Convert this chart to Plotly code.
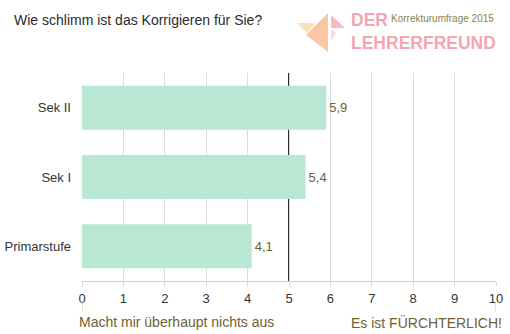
import plotly.graph_objects as go

categories = ["Primarstufe", "Sek I", "Sek II"]
values = [4.1, 5.4, 5.9]
tick_vals = list(range(0, 11))
title_text = "Wie schlimm ist das Korrigieren für Sie?"
low_label = "Macht mir überhaupt nichts aus"
high_label = "Es ist FÜRCHTERLICH!"
midpoint = 5

W, H = 510, 334
L, R, T, B = 82, 14, 73, 53
PW, PH = W - L - R, H - T - B

def px(x):
    return (x - L) / PW

def py(y):
    return (H - B - y) / PH

FONT = "Arial, Liberation Sans, sans-serif"
LOGO_FONT = "Arial, Liberation Sans, sans-serif"
OLIVE = "#6f6131"

fig = go.Figure(go.Bar(
    x=values, y=categories, orientation="h",
    marker=dict(color="#b8e7d4", line=dict(width=0)),
    texttemplate="%{x:.1f}", textposition="outside",
    textfont=dict(color=OLIVE, size=13, family=FONT),
    cliponaxis=False, hoverinfo="skip",
))

shapes = [
    dict(type="line", xref="x", yref="paper", x0=midpoint, x1=midpoint, y0=0, y1=1,
         line=dict(color="#2a2a2a", width=2), layer="below"),
    dict(type="line", xref="x", yref="paper", x0=0, x1=0, y0=py(302), y1=py(311),
         line=dict(color="#cbbf93", width=1)),
    dict(type="line", xref="x", yref="paper", x0=10, x1=10, y0=py(302), y1=py(311),
         line=dict(color="#cbbf93", width=1)),
]

def tri(pts, color, op):
    d = "M " + " L ".join(f"{px(a):.4f},{py(b):.4f}" for a, b in pts) + " Z"
    return dict(type="path", xref="paper", yref="paper", path=d,
                fillcolor=color, line=dict(width=0), opacity=op)

shapes += [
    tri([(297, 23), (316, 23), (307, 33)], "#fbd9a8", 0.8),
    tri([(328, 13), (328, 52), (306, 35)], "#f7b98f", 0.8),
    tri([(331, 15), (331, 28), (345, 28)], "#f4a9b0", 0.8),
    tri([(331, 29), (331, 41), (336, 33)], "#f6c2c2", 0.6),
]

annotations = [
    dict(text=title_text, xref="paper", yref="paper", x=px(12), y=py(20),
         xanchor="left", yanchor="middle", showarrow=False,
         font=dict(size=14, color="#2b2b2b", family=FONT)),
    dict(text=low_label, xref="paper", yref="paper", x=px(77), y=py(322),
         xanchor="left", yanchor="middle", showarrow=False,
         font=dict(size=14, color=OLIVE, family=FONT)),
    dict(text=high_label, xref="paper", yref="paper", x=px(504), y=py(322),
         xanchor="right", yanchor="middle", showarrow=False,
         font=dict(size=14, color=OLIVE, family=FONT)),
    dict(text="<b>DER<br>LEHRERFREUND</b>", xref="paper", yref="paper", x=px(350), y=py(31),
         xanchor="left", yanchor="middle", align="left", showarrow=False, borderpad=0,
         font=dict(size=17.5, color="#f3a6b2", family=LOGO_FONT)),
    dict(text="Korrekturumfrage 2015", xref="paper", yref="paper", x=px(496), y=py(18),
         xanchor="right", yanchor="middle", showarrow=False,
         font=dict(size=10, color="#8e7f4e", family=FONT)),
]

fig.update_layout(
    width=W, height=H,
    margin=dict(l=L, r=R, t=T, b=B, autoexpand=False),
    paper_bgcolor="white", plot_bgcolor="white",
    separators=",.",
    bargap=0.365,
    showlegend=False,
    font=dict(family=FONT, color="#333333", size=13),
    xaxis=dict(range=[0, 10], tickvals=tick_vals, showgrid=True, gridcolor="#dcdcdc",
               gridwidth=1, zeroline=False, showline=True, linecolor="#cfcfcf",
               ticks="outside", ticklen=5, tickcolor="#dcdcdc", automargin=False,
               tickfont=dict(size=13, color="#333333"), fixedrange=True),
    yaxis=dict(categoryorder="array", categoryarray=categories, showgrid=False,
               zeroline=False, showline=False, ticks="", ticklabelstandoff=10,
               automargin=False,
               tickfont=dict(size=13, color="#333333"), fixedrange=True),
    shapes=shapes,
    annotations=annotations,
)

fig.write_html("out.html")
